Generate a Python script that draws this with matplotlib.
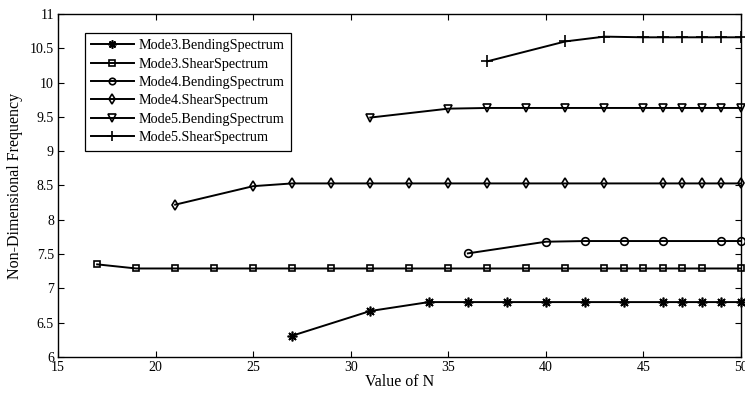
import matplotlib
matplotlib.use("Agg")
import matplotlib.pyplot as plt

plt.rcParams['font.family'] = ['Liberation Serif', 'DejaVu Serif']

# Data
m3b_x = [27, 31, 34, 36, 38, 40, 42, 44, 46, 47, 48, 49, 50]
m3b_y = [6.31, 6.67, 6.80, 6.80, 6.80, 6.80, 6.80, 6.80, 6.80, 6.80, 6.80, 6.80, 6.80]

m3s_x = [17, 19, 21, 23, 25, 27, 29, 31, 33, 35, 37, 39, 41, 43, 44, 45, 46, 47, 48, 50]
m3s_y = [7.35, 7.29, 7.29, 7.29, 7.29, 7.29, 7.29, 7.29, 7.29, 7.29, 7.29, 7.29, 7.29,
         7.29, 7.29, 7.29, 7.29, 7.29, 7.29, 7.29]

m4b_x = [36, 40, 42, 44, 46, 49, 50]
m4b_y = [7.51, 7.68, 7.69, 7.69, 7.69, 7.69, 7.69]

m4s_x = [21, 25, 27, 29, 31, 33, 35, 37, 39, 41, 43, 46, 47, 48, 49, 50]
m4s_y = [8.22, 8.49, 8.53, 8.53, 8.53, 8.53, 8.53, 8.53, 8.53, 8.53, 8.53, 8.53, 8.53,
         8.53, 8.53, 8.53]

m5b_x = [31, 35, 37, 39, 41, 43, 45, 46, 47, 48, 49, 50]
m5b_y = [9.49, 9.62, 9.63, 9.63, 9.63, 9.63, 9.63, 9.63, 9.63, 9.63, 9.63, 9.63]

m5s_x = [37, 41, 43, 45, 46, 47, 48, 49, 50]
m5s_y = [10.31, 10.60, 10.67, 10.66, 10.66, 10.66, 10.66, 10.66, 10.66]

labels = ["Mode3.BendingSpectrum", "Mode3.ShearSpectrum", "Mode4.BendingSpectrum",
          "Mode4.ShearSpectrum", "Mode5.BendingSpectrum", "Mode5.ShearSpectrum"]
markers = [(8, 2, 0), "s", "o", "d", "v", "+"]
msizes = [7, 5, 5.5, 5.5, 6, 8]

xticks = [15, 20, 25, 30, 35, 40, 45, 50]
yticks = [6, 6.5, 7, 7.5, 8, 8.5, 9, 9.5, 10, 10.5, 11]
ytick_labels = ["6", "6.5", "7", "7.5", "8", "8.5", "9", "9.5", "10", "10.5", "11"]

fig = plt.figure(figsize=(7.45, 3.94), dpi=100)
ax = fig.add_axes([0.078, 0.094, 0.9166, 0.8705])

series = [(m3b_x, m3b_y), (m3s_x, m3s_y), (m4b_x, m4b_y),
          (m4s_x, m4s_y), (m5b_x, m5b_y), (m5s_x, m5s_y)]
for (xs, ys), lab, mk, ms in zip(series, labels, markers, msizes):
    ax.plot(xs, ys, color='black', lw=1.4, marker=mk, markersize=ms,
            markerfacecolor='none', markeredgecolor='black', markeredgewidth=1.2,
            label=lab, clip_on=False)

ax.set_xlim(15, 50)
ax.set_ylim(6, 11)
ax.set_xticks(xticks)
ax.set_yticks(yticks)
ax.set_yticklabels(ytick_labels)
ax.tick_params(direction='in', top=True, right=True, length=4, width=0.8,
               labelsize=10, pad=3)
for s in ax.spines.values():
    s.set_linewidth(1.0)

ax.set_xlabel("Value of N", fontsize=11.5, labelpad=0)
ax.set_ylabel("Non-Dimensional Frequency", fontsize=11.5, labelpad=5)

leg = ax.legend(loc='upper left', bbox_to_anchor=(0.039, 0.945), fontsize=10.2,
                frameon=True, fancybox=False, edgecolor='black', framealpha=1,
                handlelength=3.0, handletextpad=0.35, labelspacing=0.38,
                borderpad=0.45, borderaxespad=0, markerscale=0.85)
leg.get_frame().set_linewidth(0.9)

fig.savefig("out.png", dpi=100)
